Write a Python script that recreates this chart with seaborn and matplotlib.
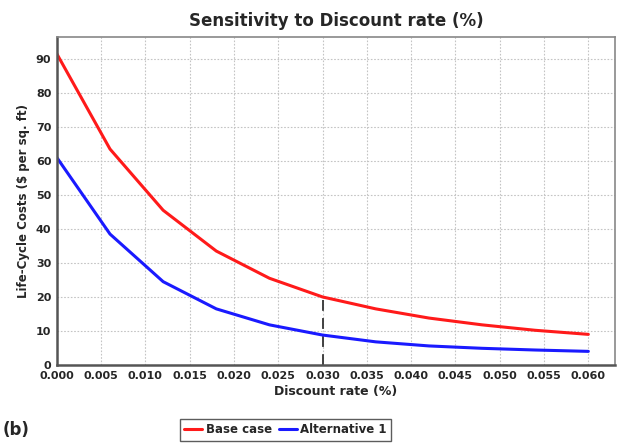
import numpy as np
import pandas as pd
import matplotlib
matplotlib.use('Agg')
import matplotlib.pyplot as plt
import seaborn as sns

# discount rate values and costs
rates = [0.000, 0.006, 0.012, 0.018, 0.024, 0.030, 0.036, 0.042, 0.048, 0.054, 0.060]
base_case = [91.5, 63.5, 45.5, 33.5, 25.5, 20.0, 16.5, 13.8, 11.8, 10.2, 9.0]
alternative_1 = [61.0, 38.5, 24.5, 16.5, 11.8, 8.8, 6.8, 5.6, 4.9, 4.4, 4.0]
x_ticks = [0.000, 0.005, 0.010, 0.015, 0.020, 0.025, 0.030, 0.035, 0.040, 0.045, 0.050, 0.055, 0.060]
y_ticks = [0, 10, 20, 30, 40, 50, 60, 70, 80, 90]
marker_rate = 0.030

df = pd.DataFrame({
    'rate': rates * 2,
    'cost': base_case + alternative_1,
    'series': ['Base case'] * len(rates) + ['Alternative 1'] * len(rates),
})

sns.set_style('white')
plt.rcParams['font.family'] = ['DejaVu Sans']

fig = plt.figure(figsize=(6.18, 4.44), dpi=100)
ax = fig.add_axes([0.092, 0.178, 0.903, 0.739])

sns.lineplot(data=df, x='rate', y='cost', hue='series',
             palette={'Base case': '#ff1a1a', 'Alternative 1': '#1a1aff'},
             linewidth=2.2, ax=ax)

# vertical marker at the selected discount rate
base_at = base_case[rates.index(marker_rate)]
ax.plot([marker_rate, marker_rate], [0, base_at], color='#333333',
        linewidth=1.3, linestyle=(0, (6, 4)), zorder=1)

ax.set_xlim(0, 0.063)
ax.set_ylim(0, 96.5)
ax.set_xticks(x_ticks)
ax.set_xticklabels([f'{t:.3f}' for t in x_ticks])
ax.set_yticks(y_ticks)
ax.grid(True, color='#c4c4c4', linestyle=(0, (1.5, 1.5)), linewidth=0.8)
ax.tick_params(labelsize=8, length=3, width=1, color='#555555', pad=1)
for lbl in ax.get_xticklabels() + ax.get_yticklabels():
    lbl.set_fontweight('bold')

for side in ['left', 'bottom']:
    ax.spines[side].set_color('#555555')
    ax.spines[side].set_linewidth(1.8)
for side in ['top', 'right']:
    ax.spines[side].set_color('#888888')
    ax.spines[side].set_linewidth(1.2)

ax.set_title('Sensitivity to Discount rate (%)', fontsize=12, fontweight='bold', pad=8)
ax.set_xlabel('Discount rate (%)', fontsize=9, fontweight='bold', labelpad=3)
ax.set_ylabel('Life-Cycle Costs ($ per sq. ft)', fontsize=8.5, fontweight='bold', labelpad=4)

handles, labels = ax.get_legend_handles_labels()
ax.legend(handles, labels, loc='center', bbox_to_anchor=(0.462, 0.032),
          bbox_transform=fig.transFigure, ncol=2, frameon=True, fancybox=False,
          edgecolor='#333333', handlelength=1.5, handletextpad=0.3,
          columnspacing=0.6, borderpad=0.4, prop={'weight': 'bold', 'size': 8.5})

fig.text(0.005, 0.032, '(b)', fontsize=12, fontweight='bold', va='center')

fig.savefig('out.png', dpi=100)
